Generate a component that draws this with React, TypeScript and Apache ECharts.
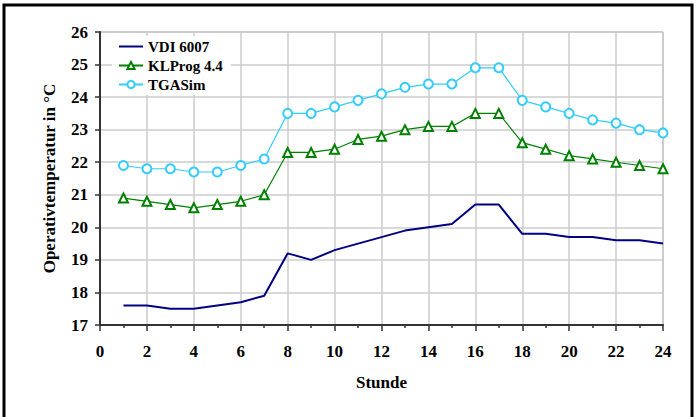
import React, { useEffect, useRef } from "react";
import * as echarts from "echarts";

const hours = [1, 2, 3, 4, 5, 6, 7, 8, 9, 10, 11, 12, 13, 14, 15, 16, 17, 18, 19, 20, 21, 22, 23, 24];
const vdi6007 = [17.6, 17.6, 17.5, 17.5, 17.6, 17.7, 17.9, 19.2, 19.0, 19.3, 19.5, 19.7, 19.9, 20.0, 20.1, 20.7, 20.7, 19.8, 19.8, 19.7, 19.7, 19.6, 19.6, 19.5];
const klprog = [20.9, 20.8, 20.7, 20.6, 20.7, 20.8, 21.0, 22.3, 22.3, 22.4, 22.7, 22.8, 23.0, 23.1, 23.1, 23.5, 23.5, 22.6, 22.4, 22.2, 22.1, 22.0, 21.9, 21.8];
const tgasim = [21.9, 21.8, 21.8, 21.7, 21.7, 21.9, 22.1, 23.5, 23.5, 23.7, 23.9, 24.1, 24.3, 24.4, 24.4, 24.9, 24.9, 23.9, 23.7, 23.5, 23.3, 23.2, 23.0, 22.9];
const seriesNames = ["VDI 6007", "KLProg 4.4", "TGASim"];
const xTitle = "Stunde";
const yTitle = "Operativtemperatur in °C";

const FONT = '"Liberation Serif", "Times New Roman", serif';

export default function App() {
  const ref = useRef<HTMLDivElement>(null);
  useEffect(() => {
    if (!ref.current) return;
    const chart = echarts.init(ref.current, null, { renderer: "svg" });
    const pair = (ys: number[]) => hours.map((h, i) => [h, ys[i]]);
    chart.setOption({
      animation: false,
      backgroundColor: "#fff",
      graphic: [
        {
          type: "rect",
          shape: { x: 4, y: 5, width: 688, height: 430 },
          style: { fill: "none", stroke: "#000", lineWidth: 3 },
          z: 100,
        },
      ],
      grid: {
        left: 100,
        top: 32,
        right: 36,
        bottom: 92,
        show: true,
        borderColor: "#999",
        borderWidth: 1,
        backgroundColor: "transparent",
      },
      legend: {
        orient: "vertical",
        left: 112,
        top: 36,
        itemWidth: 24,
        itemHeight: 9,
        itemGap: 4,
        padding: [3, 8, 3, 6],
        backgroundColor: "#fff",
        data: [
          { name: seriesNames[0], itemStyle: { opacity: 0 } },
          { name: seriesNames[1] },
          { name: seriesNames[2] },
        ],
        textStyle: { fontFamily: FONT, fontWeight: "bold", fontSize: 15, color: "#000" },
        z: 10,
      },
      xAxis: {
        type: "value",
        min: 0,
        max: 24,
        interval: 2,
        name: xTitle,
        nameLocation: "middle",
        nameGap: 49,
        nameTextStyle: { fontFamily: FONT, fontWeight: "bold", fontSize: 17, color: "#000" },
        axisLine: { show: true, onZero: false, lineStyle: { color: "#333", width: 2 } },
        axisTick: { show: true, inside: false, length: 6, lineStyle: { color: "#333", width: 1.5 } },
        minorTick: { show: true, splitNumber: 2, length: 3, lineStyle: { color: "#333", width: 1.5 } },
        axisLabel: { fontFamily: FONT, fontWeight: "bold", fontSize: 17, color: "#000", margin: 18 },
        splitLine: { show: true, lineStyle: { color: "#cccccc", width: 1.5 } },
      },
      yAxis: {
        type: "value",
        min: 17,
        max: 26,
        interval: 1,
        name: yTitle,
        nameLocation: "middle",
        nameRotate: 90,
        nameGap: 42,
        nameTextStyle: { fontFamily: FONT, fontWeight: "bold", fontSize: 17, color: "#000" },
        axisLine: { show: true, onZero: false, lineStyle: { color: "#333", width: 2 } },
        axisTick: { show: true, inside: false, length: 5, lineStyle: { color: "#333", width: 1.5 } },
        axisLabel: { fontFamily: FONT, fontWeight: "bold", fontSize: 17, color: "#000", margin: 12 },
        splitLine: { show: true, lineStyle: { color: "#cccccc", width: 1.5 } },
      },
      series: [
        {
          name: seriesNames[0],
          type: "line",
          data: pair(vdi6007),
          symbol: "none",
          lineStyle: { color: "#000080", width: 2 },
          itemStyle: { color: "#000080" },
          z: 3,
        },
        {
          name: seriesNames[1],
          type: "line",
          data: pair(klprog),
          symbol: "emptyTriangle",
          symbolSize: 9,
          lineStyle: { color: "#008000", width: 1.2 },
          itemStyle: { color: "#008000", borderWidth: 1.3 },
          z: 3,
        },
        {
          name: seriesNames[2],
          type: "line",
          data: pair(tgasim),
          symbol: "emptyCircle",
          symbolSize: 9,
          lineStyle: { color: "#33ccff", width: 1.2 },
          itemStyle: { color: "#33ccff", borderWidth: 1.3 },
          z: 3,
        },
      ],
    });
    return () => chart.dispose();
  }, []);
  return (
    <div
      ref={ref}
      style={{ position: "fixed", left: 0, top: 0, width: 699, height: 417, background: "#fff" }}
    />
  );
}
